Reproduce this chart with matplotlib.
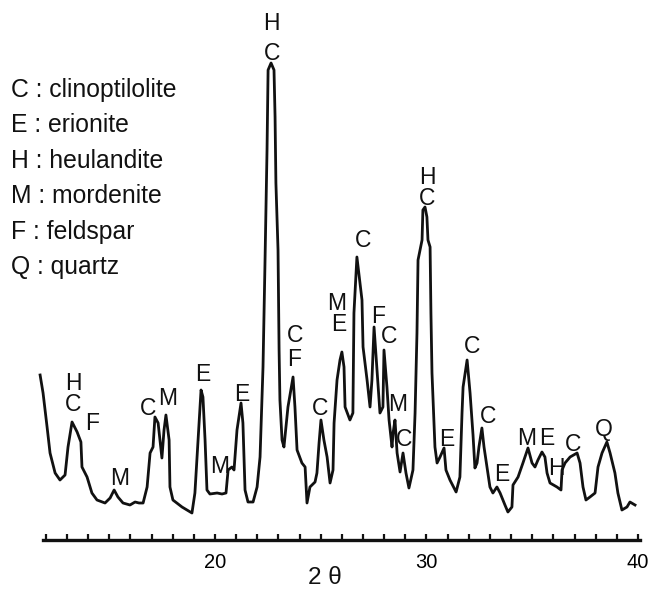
import matplotlib
matplotlib.use("Agg")
import matplotlib.pyplot as plt
from matplotlib.ticker import FixedLocator

plt.rcParams['font.family'] = ['Liberation Sans', 'DejaVu Sans']

# XRD pattern: 2-theta (deg) and intensity (arbitrary units)
two_theta = [11.73, 11.87, 12.06, 12.20, 12.44, 12.67, 12.91, 13.05, 13.24, 13.48,
             13.66, 13.71, 13.95, 14.18, 14.42, 14.80, 15.04, 15.23, 15.41, 15.65,
             15.98, 16.22, 16.41, 16.60, 16.79, 16.93, 17.07, 17.16, 17.31, 17.49,
             17.59, 17.68, 17.83, 17.87, 18.01, 18.44, 18.91, 19.05, 19.20, 19.34,
             19.43, 19.53, 19.62, 19.76, 20.10, 20.33, 20.52, 20.62, 20.80, 20.90,
             21.04, 21.23, 21.32, 21.42, 21.56, 21.80, 21.99, 22.13, 22.27, 22.36,
             22.46, 22.51, 22.65, 22.79, 22.84, 22.88, 22.98, 23.03, 23.07, 23.17,
             23.26, 23.45, 23.69, 23.78, 23.88, 24.11, 24.26, 24.35, 24.49, 24.73,
             24.82, 24.92, 25.01, 25.15, 25.30, 25.44, 25.58, 25.63, 25.77, 25.91,
             26.00, 26.10, 26.15, 26.38, 26.52, 26.57, 26.71, 26.95, 27.00, 27.19,
             27.33, 27.42, 27.52, 27.66, 27.80, 27.94, 27.99, 28.13, 28.23, 28.37,
             28.42, 28.51, 28.61, 28.75, 28.89, 29.03, 29.17, 29.36, 29.46, 29.55,
             29.60, 29.79, 29.83, 29.93, 30.02, 30.07, 30.17, 30.21, 30.26, 30.40,
             30.50, 30.64, 30.83, 30.92, 31.11, 31.40, 31.58, 31.68, 31.73, 31.92,
             32.06, 32.20, 32.29, 32.39, 32.48, 32.62, 32.72, 32.86, 33.00, 33.14,
             33.33, 33.48, 33.71, 33.85, 34.04, 34.09, 34.33, 34.56, 34.80, 34.99,
             35.13, 35.27, 35.46, 35.60, 35.70, 35.84, 36.17, 36.36, 36.41, 36.55,
             36.79, 37.12, 37.26, 37.40, 37.54, 37.73, 37.97, 38.11, 38.30, 38.53,
             38.68, 38.91, 39.05, 39.24, 39.48, 39.62, 39.86]
intensity = [165, 147, 113, 87, 67, 60, 65, 93, 118, 108,
             98, 73, 63, 47, 40, 37, 42, 50, 43, 37,
             35, 38, 37, 37, 53, 87, 93, 123, 117, 82,
             110, 125, 100, 53, 40, 33, 27, 47, 100, 150,
             143, 100, 50, 46, 47, 46, 47, 70, 73, 70,
             110, 137, 117, 50, 38, 38, 53, 83, 173, 273,
             390, 470, 477, 470, 423, 357, 290, 190, 140, 100,
             93, 133, 163, 133, 90, 77, 73, 37, 53, 58,
             67, 97, 120, 100, 83, 57, 70, 117, 160, 180,
             188, 173, 133, 120, 127, 227, 283, 240, 193, 160,
             133, 160, 213, 170, 127, 133, 190, 153, 120, 93,
             107, 120, 87, 68, 87, 67, 52, 70, 127, 207,
             280, 300, 330, 333, 323, 300, 293, 227, 167, 93,
             77, 83, 92, 70, 60, 48, 63, 127, 153, 180,
             147, 105, 72, 77, 93, 112, 93, 73, 53, 47,
             53, 47, 35, 28, 33, 55, 63, 77, 92, 77,
             73, 80, 88, 83, 67, 57, 53, 50, 70, 77,
             83, 87, 77, 53, 40, 43, 47, 73, 87, 98,
             87, 67, 47, 30, 33, 38, 35]

# Peak identification labels: letter, 2-theta, label baseline height
peak_letters = ['H', 'C', 'F', 'M', 'C', 'M', 'E', 'M', 'E', 'C', 'F', 'C',
                'H', 'C', 'M', 'E', 'C', 'F', 'C', 'M', 'C', 'H', 'C', 'E',
                'C', 'C', 'E', 'M', 'E', 'H', 'C', 'Q']
peak_theta = [13.29, 13.29, 14.18, 15.51, 16.83, 17.78, 19.43, 20.24, 21.28, 23.78, 23.74, 24.96,
              22.65, 22.70, 25.77, 25.86, 27.00, 27.71, 28.23, 28.65, 28.94, 30.02, 30.02, 30.97,
              32.15, 32.91, 33.57, 34.75, 35.70, 36.12, 36.93, 38.39]
peak_level = [150, 129, 110, 55, 125, 135, 159, 67, 139, 198, 174, 125,
              510, 480, 230, 209, 293, 217, 197, 129, 94, 356, 335, 94,
              187, 117, 59, 95, 95, 65, 89, 104]

legend_lines = ['C : clinoptilolite', 'E : erionite', 'H : heulandite',
                'M : mordenite', 'F : feldspar', 'Q : quartz']

major_ticks = [20, 30, 40]
minor_ticks = list(range(12, 41))
xlabel = '2 \u03b8'

fig = plt.figure(figsize=(6.53, 5.89), dpi=100)
ax = fig.add_axes([0, 49 / 589, 1, 540 / 589])
ax.plot(two_theta, intensity, color='#111111', lw=2.0, solid_joinstyle='round')
ax.set_xlim(9.834, 40.71)
ax.set_ylim(0, 540)

for s in ['top', 'left', 'right']:
    ax.spines[s].set_visible(False)
ax.spines['bottom'].set_bounds(11.85, 40.1)
ax.spines['bottom'].set_linewidth(2.4)
ax.spines['bottom'].set_color('#111111')
ax.set_yticks([])
ax.xaxis.set_major_locator(FixedLocator(major_ticks))
ax.xaxis.set_minor_locator(FixedLocator(minor_ticks))
ax.tick_params(axis='x', which='both', direction='in', length=4, width=1.6,
               color='#111111', pad=9, labelsize=14.5)
ax.patch.set_alpha(0)

for t, x, y in zip(peak_letters, peak_theta, peak_level):
    ax.text(x, y, t, ha='center', va='baseline', fontsize=16.5, color='#111111')

for i, line in enumerate(legend_lines):
    fig.text(11 / 653, 1 - (97 + 35.4 * i) / 589, line, ha='left', va='baseline',
             fontsize=17.8, color='#111111')

fig.text(325 / 653, 1 - 584 / 589, xlabel, ha='center', va='baseline', fontsize=17.5,
         color='#111111')

fig.savefig('out.png', dpi=100)
